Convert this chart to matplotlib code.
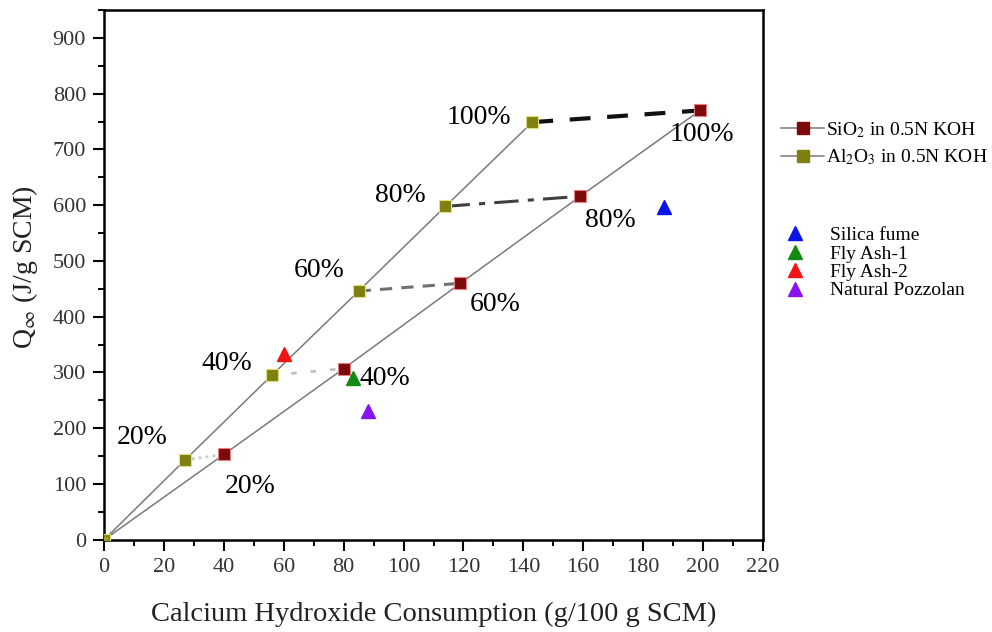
import matplotlib
matplotlib.use("Agg")
import matplotlib.pyplot as plt
from matplotlib.lines import Line2D
from matplotlib.ticker import MultipleLocator

plt.rcParams['font.family'] = ['Liberation Serif', 'DejaVu Serif']
plt.rcParams['mathtext.fontset'] = 'stix'

# replacement levels
pct_labels = ["20%", "40%", "60%", "80%", "100%"]

# SiO2 in 0.5N KOH (origin + 20..100%)
sio2_ch = [0, 40, 80, 119, 159, 199]
sio2_q = [0, 153, 307, 460, 616, 770]

# Al2O3 in 0.5N KOH
al2o3_ch = [0, 27, 56, 85, 114, 143]
al2o3_q = [0, 143, 295, 446, 598, 749]

# real SCMs
scm_names = ["Silica fume", "Fly Ash-1", "Fly Ash-2", "Natural Pozzolan"]
scm_ch = [187, 83, 60, 88]
scm_q = [597, 290, 333, 231]
scm_colors = ["#0a14e6", "#138a13", "#f01414", "#8a14f0"]

fig = plt.figure(figsize=(9.92, 6.32), dpi=100)
ax = fig.add_axes([0.105, 0.146, 0.664, 0.838])

# thin lines through origin
ax.plot(sio2_ch, sio2_q, color='#7a7a7a', lw=1.1, zorder=2)
ax.plot(al2o3_ch, al2o3_q, color='#7a7a7a', lw=1.1, zorder=2)

# connectors between equal replacement levels
conn = [
    dict(color='#c8c8c8', lw=2, ls=(0, (1, 1.5))),
    dict(color='#c0c0c0', lw=2, ls=(0, (2, 5))),
    dict(color='#707070', lw=2.2, ls=(0, (4, 3))),
    dict(color='#404040', lw=2.2, ls=(0, (8, 3, 2, 3))),
    dict(color='#111111', lw=3, ls=(0, (5, 4))),
]
for i in range(5):
    ax.plot([al2o3_ch[i + 1], sio2_ch[i + 1]], [al2o3_q[i + 1], sio2_q[i + 1]],
            zorder=3, **conn[i])

ax.plot(sio2_ch[1:], sio2_q[1:], 's', ms=8, color='#7d0a0a', mec='#e08080',
        mew=0.8, ls='none', zorder=5)
ax.plot(al2o3_ch, al2o3_q, 's', ms=8, color='#808010', mec='#e0e080',
        mew=0.8, ls='none', zorder=5)
ax.plot([0], [0], 's', ms=5, color='#a0a020', zorder=5)

for n, x, y, c in zip(scm_names, scm_ch, scm_q, scm_colors):
    ax.plot(x, y, '^', ms=10, color=c, ls='none', zorder=6)

# percentage labels (pixel offsets from the marker)
al_off = [(-17, 23), (-20, 12), (-14, 21), (-20, 11), (-21, 5)]
si_off = [(1, -32), (16, -10), (9, -21), (5, -24), (-30, -24)]
for i, lab in enumerate(pct_labels):
    ax.annotate(lab, (al2o3_ch[i + 1], al2o3_q[i + 1]), xytext=al_off[i],
                textcoords='offset pixels', ha='right', va='center', fontsize=20)
    ax.annotate(lab, (sio2_ch[i + 1], sio2_q[i + 1]), xytext=si_off[i],
                textcoords='offset pixels', ha='left', va='center', fontsize=20)

ax.set_xlim(0, 220)
ax.set_ylim(0, 950)
ax.xaxis.set_major_locator(MultipleLocator(20))
ax.xaxis.set_minor_locator(MultipleLocator(10))
ax.yaxis.set_major_locator(MultipleLocator(100))
ax.yaxis.set_minor_locator(MultipleLocator(50))
ax.tick_params(which='major', direction='out', length=8, width=1.5, pad=5,
               labelsize=16, labelcolor='#333333')
ax.tick_params(which='minor', direction='out', length=4, width=1.4)
for s in ax.spines.values():
    s.set_linewidth(1.8)

ax.set_xlabel("Calcium Hydroxide Consumption (g/100 g SCM)", fontsize=20.5,
              labelpad=18, color='#222222')
ax.set_ylabel(r"Q$_{\infty}$ (J/g SCM)", fontsize=20, color='#222222')
ax.yaxis.set_label_coords(-0.097, 0.515)

h1 = [Line2D([], [], color='#7a7a7a', lw=1.1, marker='s', ms=8, mfc='#7d0a0a', mec='#7d0a0a'),
      Line2D([], [], color='#7a7a7a', lw=1.1, marker='s', ms=8, mfc='#808010', mec='#808010')]
fig.legend(h1, [r"SiO$_2$ in 0.5N KOH", r"Al$_2$O$_3$ in 0.5N KOH"],
           loc='upper left', bbox_to_anchor=(0.770, 0.838), frameon=False,
           fontsize=14, handlelength=2.2, handletextpad=0.1, labelspacing=0.4)

h2 = [Line2D([], [], marker='^', ms=10, color=c, ls='none') for c in scm_colors]
fig.legend(h2, scm_names, loc='upper left', bbox_to_anchor=(0.772, 0.669), frameon=False,
           fontsize=14, handlelength=1.2, handletextpad=1.2, labelspacing=0.04)

fig.savefig("out.png", dpi=100)
